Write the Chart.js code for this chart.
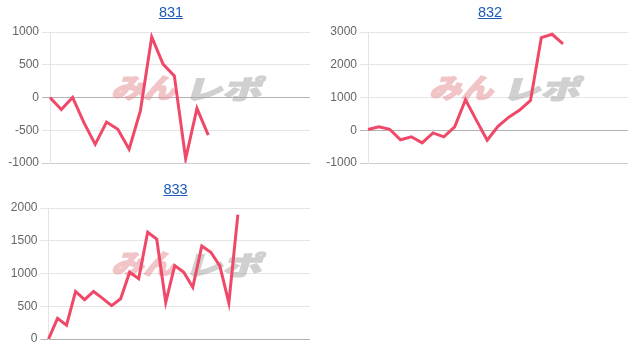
<!DOCTYPE html>
<html>
<head>
<meta charset="utf-8">
<script src="https://cdn.jsdelivr.net/npm/chart.js@4"></script>
<style>
  html, body { margin: 0; padding: 0; background: #fff; }
  body { width: 636px; height: 350px; position: relative; overflow: hidden; font-family: "Liberation Sans", Arial, sans-serif; }
  .box { position: absolute; width: 318px; height: 176px; }
  .box canvas { position: absolute; left: 0; top: 0; }
  .ttl { position: absolute; width: 120px; text-align: center; font-size: 14.5px; line-height: 16px; }
  .ttl a { color: #1d5bb8; text-decoration: underline; }
</style>
</head>
<body>
<div class="box" style="left:0;top:0"><canvas id="c831" width="318" height="176"></canvas></div>
<div class="box" style="left:318px;top:0"><canvas id="c832" width="318" height="176"></canvas></div>
<div class="box" style="left:0;top:176px"><canvas id="c833" width="318" height="176"></canvas></div>
<div class="ttl" style="left:111px;top:4px"><a href="#">831</a></div>
<div class="ttl" style="left:430px;top:4px"><a href="#">832</a></div>
<div class="ttl" style="left:115.5px;top:181px"><a href="#">833</a></div>
<script>
// ---- data ----
const labels831 = ['1','2','3','4','5','6','7','8','9','10','11','12','13','14','15','16','17','18','19','20','21','22','23','24'];
const values831 = [0, -185, 0, -385, -715, -375, -485, -790, -200, 925, 510, 330, -935, -165, -575];
const ticks831 = [-1000, -500, 0, 500, 1000];

const labels832 = ['1','2','3','4','5','6','7','8','9','10','11','12','13','14','15','16','17','18','19','20','21','22','23','24','25'];
const values832 = [25, 105, 30, -290, -200, -385, -80, -200, 105, 930, 310, -305, 120, 400, 615, 910, 2830, 2930, 2640];
const ticks832 = [-1000, 0, 1000, 2000, 3000];

const labels833 = ['1','2','3','4','5','6','7','8','9','10','11','12','13','14','15','16','17','18','19','20','21','22','23','24','25','26','27','28','29','30'];
const values833 = [0, 315, 210, 725, 600, 725, 620, 510, 615, 1020, 920, 1630, 1525, 560, 1120, 1020, 790, 1420, 1325, 1115, 550, 1900];
const ticks833 = [0, 500, 1000, 1500, 2000];

const watermarkLeft = 'みん';
const watermarkRight = 'レポ';

// ---- watermark plugin ----
function drawFit(ctx, text, L, T, W, H, color) {
  ctx.save();
  ctx.font = "900 40px 'Noto Sans CJK JP'";
  ctx.textBaseline = 'alphabetic';
  const m = ctx.measureText(text);
  const tw = m.actualBoundingBoxLeft + m.actualBoundingBoxRight;
  const th = m.actualBoundingBoxAscent + m.actualBoundingBoxDescent;
  const k = 0.3;
  ctx.translate(L, T + H);
  ctx.transform(1, 0, -k, 1, 0, 0);
  const sx = (W - k * H) / tw, sy = H / th;
  ctx.scale(sx, sy);
  ctx.fillStyle = color;
  ctx.strokeStyle = color;
  ctx.lineJoin = 'round';
  ctx.lineWidth = 2.2;
  ctx.fillText(text, m.actualBoundingBoxLeft, -m.actualBoundingBoxDescent);
  ctx.strokeText(text, m.actualBoundingBoxLeft, -m.actualBoundingBoxDescent);
  ctx.restore();
}
const watermark = {
  id: 'watermark',
  beforeDatasetsDraw(chart) {
    const ctx = chart.ctx;
    ctx.save();
    const off = document.createElement('canvas');
    off.width = chart.width; off.height = chart.height;
    const o = off.getContext('2d');
    drawFit(o, watermarkLeft, 111, 76, 70, 25, 'rgb(230,150,155)');
    drawFit(o, watermarkRight, 190, 76, 77, 25, 'rgb(170,170,170)');
    ctx.globalAlpha = 0.55;
    ctx.drawImage(off, 0, 0);
    ctx.restore();
  }
};

function makeChart(id, labels, values, ticks, axisW) {
  const mn = ticks[0], mx = ticks[ticks.length - 1];
  new Chart(document.getElementById(id), {
    type: 'line',
    data: {
      labels: labels,
      datasets: [{
        data: values,
        borderColor: 'rgb(240,72,104)',
        backgroundColor: 'rgb(240,72,104)',
        borderWidth: 3,
        pointRadius: 0,
        pointHoverRadius: 0,
        tension: 0,
        fill: false
      }]
    },
    options: {
      responsive: false,
      animation: false,
      events: [],
      layout: { padding: { left: 0, right: 8, top: 32, bottom: 13 } },
      plugins: { legend: { display: false }, title: { display: false }, tooltip: { enabled: false } },
      scales: {
        x: { display: false },
        y: {
          min: mn, max: mx,
          afterFit(scale) { scale.width = axisW; },
          afterBuildTicks(scale) { scale.ticks = ticks.map(v => ({ value: v })); },
          ticks: {
            color: '#666',
            font: { size: 12, family: "'Liberation Sans', Arial, sans-serif" },
            callback: (v) => String(v)
          },
          grid: {
            color: (c) => {
              const v = c.tick && c.tick.value;
              if (v === 0) return 'rgba(0,0,0,0.3)';
              if (v === mn) return 'rgba(0,0,0,0.2)';
              return 'rgba(0,0,0,0.1)';
            }
          },
          border: { color: 'rgba(0,0,0,0.1)' }
        }
      }
    },
    plugins: [watermark]
  });
}
makeChart('c831', labels831, values831, ticks831, 50);
makeChart('c832', labels832, values832, ticks832, 50);
makeChart('c833', labels833, values833, ticks833, 48.5);
</script>
</body>
</html>
